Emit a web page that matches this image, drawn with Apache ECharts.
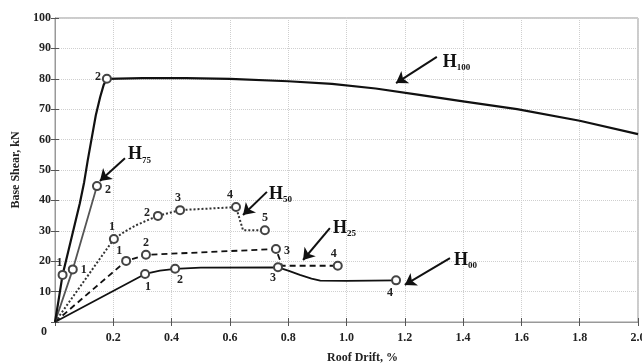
<!DOCTYPE html>
<html><head><meta charset="utf-8">
<script src="https://cdn.jsdelivr.net/npm/echarts@6/dist/echarts.min.js"></script>
<style>html,body{margin:0;padding:0;background:#fff}#c{width:642px;height:363px}</style>
</head><body><div id="c"></div>
<script>
// ---- data ----
const xTicks = [0,0.2,0.4,0.6,0.8,1.0,1.2,1.4,1.6,1.8,2.0];
const yTicks = [0,10,20,30,40,50,60,70,80,90,100];

const h100X = [0,0.012,0.026,0.045,0.065,0.085,0.1,0.112,0.125,0.14,0.155,0.167,0.178,0.3,0.45,0.6,0.8,0.95,1.1,1.25,1.4,1.585,1.8,2.0];
const h100Y = [0,7,15.5,23,31,39,46,53,60,68,74,78,80,80.2,80.2,80,79.2,78.3,76.8,74.7,72.6,70,66.2,61.8];
const h100Pts = [[2,'1'],[12,'2']];

const h75X = [0,0.061,0.144];
const h75Y = [0,17.3,44.7];
const h75Pts = [[1,'1'],[2,'2']];

const h50X = [0,0.202,0.24,0.28,0.32,0.353,0.429,0.621,0.645,0.72];
const h50Y = [0,27.3,29.8,31.9,33.6,34.9,36.8,37.8,30.2,30.2];
const h50Pts = [[1,'1'],[5,'2'],[6,'3'],[7,'4'],[9,'5']];

const h25X = [0,0.244,0.312,0.5,0.758,0.779,0.97];
const h25Y = [0,20.1,22.1,22.9,24,18.5,18.5];
const h25Pts = [[1,'1'],[2,'2'],[4,'3'],[6,'4']];

const h00X = [0,0.309,0.36,0.412,0.5,0.765,0.8,0.84,0.88,0.91,1.0,1.17];
const h00Y = [0,15.8,16.9,17.5,17.9,18,16.9,15.5,14.3,13.6,13.5,13.7];
const h00Pts = [[1,'1'],[3,'2'],[5,'3'],[11,'4']];

const annotNames = ['100','75','50','25','00'];
const annotLabelAt = [[1.33,85.5],[0.25,55],[0.734,42],[0.954,30.9],[1.369,20.4]];
const annotArrowFrom = [[1.31,87.2],[0.24,53.9],[0.727,42.8],[0.943,30.9],[1.355,21]];
const annotArrowTo = [[1.17,78.6],[0.154,46.4],[0.645,35.2],[0.851,20.4],[1.2,12.2]];

// ---- styles ----
const FONT = '"Liberation Serif","Times New Roman",serif';
const lblPos = {
  h100: [['top',[-3,2]],['left',[2,-2]]],
  h75: [['right',[0,0]],['right',[0,4]]],
  h50: [['top',[-2,2]],['left',[0,-3]],['top',[-2,2]],['top',[-6,2]],['top',[0,2]]],
  h25: [['top',[-7,4]],['top',[0,2]],['right',[0,2]],['top',[-4,2]]],
  h00: [['bottom',[3,-1]],['bottom',[5,-3]],['bottom',[-5,-3]],['bottom',[-6,-1]]]
};

function build(xs, ys, pts, pos, color) {
  const data = xs.map((x,i)=>[x, ys[i]]);
  const out = data.map(d=>({value:d}));
  pts.forEach((p,k)=>{
    const [idx, txt] = p;
    out[idx] = {
      value: data[idx], symbol:'emptyCircle', symbolSize:8,
      itemStyle:{color:'#444', borderColor:'#444', borderWidth:1},
      label:{show:true, formatter:txt, position:pos[k][0], offset:pos[k][1], distance:3,
        fontFamily:FONT, fontWeight:'bold', fontSize:12, color:'#222'}
    };
  });
  return out;
}

function lineSeries(name, xs, ys, pts, pos, color, width, type) {
  return {
    name, type:'line', symbol:'none', showSymbol:true, z:3,
    data: build(xs, ys, pts, pos, color),
    lineStyle:{color, width, type},
    emphasis:{disabled:true}, animation:false
  };
}

const chart = echarts.init(document.getElementById('c'));
const axisCommon = {
  type:'value',
  axisLine:{show:true, lineStyle:{color:'#999', width:1}},
  axisTick:{show:true, inside:true, length:4, lineStyle:{color:'#555'}},
  splitLine:{show:false}
};

const annotSeries = {
  type:'line', data:[], symbol:'none', silent:true, animation:false,
  markLine:{
    silent:true, animation:false, symbol:['none','triangle'], symbolSize:[0,9],
    lineStyle:{color:'#111', width:2, type:'solid'}, label:{show:false},
    data: annotArrowFrom.map((f,i)=>[{coord:f, symbol:'none'},{coord:annotArrowTo[i], symbol:'arrow', symbolSize:11}])
  },
  markPoint:{
    silent:true, animation:false, symbol:'circle', symbolSize:0,
    label:{show:true, position:'right', distance:0,
      formatter:p=>'{h|H}{s|'+p.name+'}',
      rich:{
        h:{fontFamily:FONT, fontWeight:'bold', fontSize:18, color:'#111', lineHeight:20, verticalAlign:'middle'},
        s:{fontFamily:FONT, fontWeight:'bold', fontSize:9, color:'#111', lineHeight:20, verticalAlign:'bottom', padding:[8,0,0,0]}
      }},
    data: annotNames.map((n,i)=>({name:n, coord:annotLabelAt[i]}))
  }
};

chart.setOption({
  animation:false,
  backgroundColor:'#fff',
  grid:{left:55, right:4, top:18, bottom:41, show:true, borderColor:'#999', borderWidth:1,
        containLabel:false, outerBoundsMode:'none'},
  xAxis:[
    Object.assign({}, axisCommon, {
      min:xTicks[0], max:xTicks[xTicks.length-1], interval:0.2, position:'bottom',
      name:'Roof Drift, %', nameLocation:'middle', nameGap:30,
      nameTextStyle:{fontFamily:FONT, fontWeight:'bold', fontSize:12, color:'#222', padding:[0,0,0,32]},
      axisLabel:{fontFamily:FONT, fontWeight:'bold', fontSize:12, color:'#222', margin:10,
        formatter:v=> v===0 ? '' : v.toFixed(1)},
      splitLine:{show:true, lineStyle:{color:'#cfcfcf', type:'dotted', width:1}}
    }),
    Object.assign({}, axisCommon, {
      min:xTicks[0], max:xTicks[xTicks.length-1], interval:0.2, position:'top',
      axisLabel:{show:false}
    })
  ],
  yAxis:[
    Object.assign({}, axisCommon, {
      min:yTicks[0], max:yTicks[yTicks.length-1], interval:10, position:'left',
      name:'Base Shear, kN', nameLocation:'middle', nameGap:31,
      nameTextStyle:{fontFamily:FONT, fontWeight:'bold', fontSize:12, color:'#222'},
      axisLabel:{fontFamily:FONT, fontWeight:'bold', fontSize:12, color:'#222', margin:4,
        formatter:v=> v===0 ? '{z|0}' : String(v),
        rich:{z:{fontFamily:FONT, fontWeight:'bold', fontSize:12, color:'#222', padding:[20,4,0,0]}}},
      splitLine:{show:true, lineStyle:{color:'#cfcfcf', type:'dotted', width:1}}
    }),
    Object.assign({}, axisCommon, {
      min:yTicks[0], max:yTicks[yTicks.length-1], interval:10, position:'right',
      axisLabel:{show:false}
    })
  ],
  series:[
    lineSeries('H00', h00X, h00Y, h00Pts, lblPos.h00, '#111', 1.8, 'solid'),
    lineSeries('H25', h25X, h25Y, h25Pts, lblPos.h25, '#111', 1.8, [6,4]),
    lineSeries('H50', h50X, h50Y, h50Pts, lblPos.h50, '#333', 2, [2,2]),
    lineSeries('H75', h75X, h75Y, h75Pts, lblPos.h75, '#555', 1.8, 'solid'),
    lineSeries('H100', h100X, h100Y, h100Pts, lblPos.h100, '#111', 2.2, 'solid'),
    annotSeries
  ]
});
</script>
</body></html>
